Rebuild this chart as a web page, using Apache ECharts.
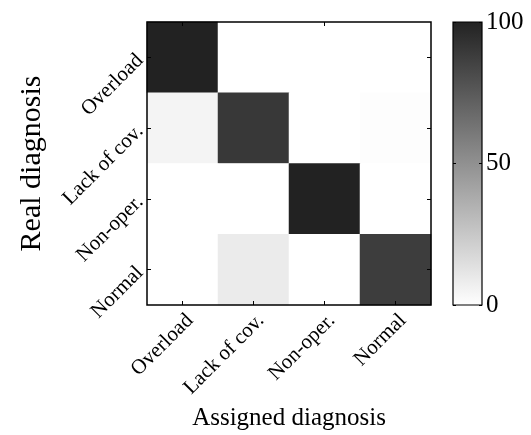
<!DOCTYPE html>
<html>
<head>
<meta charset="utf-8">
<script src="https://cdn.jsdelivr.net/npm/echarts@6/dist/echarts.min.js"></script>
<style>html,body{margin:0;padding:0;background:#fff}#c{width:531px;height:435px}</style>
</head>
<body>
<div id="c"></div>
<script>
const categories = ['Overload', 'Lack of cov.', 'Non-oper.', 'Normal'];
// rows = real diagnosis, columns = assigned diagnosis (percent)
const realOverload = [100, 0, 0, 0];
const realLackOfCov = [5, 90, 0, 1];
const realNonOper = [0, 0, 100, 0];
const realNormal = [0, 9, 0, 88];
const colorbarTicks = [0, 50, 100];

const rows = [realOverload, realLackOfCov, realNonOper, realNormal];
const data = [];
rows.forEach((row, r) => row.forEach((v, c) => data.push([c, r, v])));

const LOW = '#ffffff', HIGH = '#222222';
const FONT = "'Liberation Serif', 'DejaVu Serif', serif";
const chart = echarts.init(document.getElementById('c'), null, {renderer: 'canvas'});
const innerTick = {show: true, inside: true, alignWithLabel: true, length: 4, lineStyle: {color: '#000', width: 1}};
const barTick = {show: true, inside: true, length: 3, lineStyle: {color: '#000', width: 1}};
chart.setOption({
  animation: false,
  backgroundColor: '#fff',
  grid: [
    {left: 147, top: 22, width: 284, height: 283, containLabel: false, outerBoundsMode: 'none',
     show: true, borderColor: '#000', borderWidth: 1.5, backgroundColor: 'transparent', z: 10},
    {left: 453, top: 22, width: 29, height: 283, containLabel: false, outerBoundsMode: 'none',
     show: true, borderColor: '#000', borderWidth: 1.2,
     backgroundColor: new echarts.graphic.LinearGradient(0, 0, 0, 1, [{offset: 0, color: HIGH}, {offset: 1, color: LOW}])}
  ],
  xAxis: [
    {type: 'category', data: categories, gridIndex: 0, position: 'bottom', z: 10,
     axisLine: {show: false}, axisTick: innerTick,
     axisLabel: {fontFamily: FONT, fontSize: 21, color: '#000', rotate: 45, margin: 5, verticalAlign: 'top'},
     splitLine: {show: false},
     name: 'Assigned diagnosis', nameLocation: 'middle', nameGap: 100,
     nameTextStyle: {fontFamily: FONT, fontSize: 25, color: '#000'}},
    {type: 'category', data: categories, gridIndex: 0, position: 'top', z: 10,
     axisLine: {show: false}, axisTick: innerTick,
     axisLabel: {show: false}},
    {type: 'value', gridIndex: 1, show: false, min: 0, max: 1, axisLine: {onZero: false}}
  ],
  yAxis: [
    {type: 'category', data: categories, gridIndex: 0, inverse: true, position: 'left', z: 10,
     axisLine: {show: false}, axisTick: innerTick,
     axisLabel: {fontFamily: FONT, fontSize: 21, color: '#000', rotate: 45, margin: 7},
     splitLine: {show: false},
     name: 'Real diagnosis', nameLocation: 'middle', nameGap: 100,
     nameTextStyle: {fontFamily: FONT, fontSize: 30, color: '#000'}},
    {type: 'category', data: categories, gridIndex: 0, inverse: true, position: 'right', z: 10,
     axisLine: {show: false}, axisTick: innerTick,
     axisLabel: {show: false}},
    {type: 'value', gridIndex: 1, position: 'right', z: 10, min: colorbarTicks[0], max: colorbarTicks[colorbarTicks.length - 1], interval: colorbarTicks[1] - colorbarTicks[0],
     axisLine: {show: false, onZero: false}, splitLine: {show: false}, axisTick: barTick,
     axisLabel: {fontFamily: FONT, fontSize: 25, color: '#000', margin: 4}},
    {type: 'value', gridIndex: 1, position: 'left', z: 10, min: colorbarTicks[0], max: colorbarTicks[colorbarTicks.length - 1], interval: colorbarTicks[1] - colorbarTicks[0],
     axisLine: {show: false, onZero: false}, splitLine: {show: false}, axisTick: barTick,
     axisLabel: {show: false}}
  ],
  visualMap: {
    type: 'continuous', min: colorbarTicks[0], max: colorbarTicks[colorbarTicks.length - 1], show: false,
    seriesIndex: 0, inRange: {color: [LOW, HIGH]}
  },
  series: [{
    type: 'heatmap', xAxisIndex: 0, yAxisIndex: 0, data: data,
    itemStyle: {borderWidth: 0},
    emphasis: {disabled: true}
  }]
});
</script>
</body>
</html>
